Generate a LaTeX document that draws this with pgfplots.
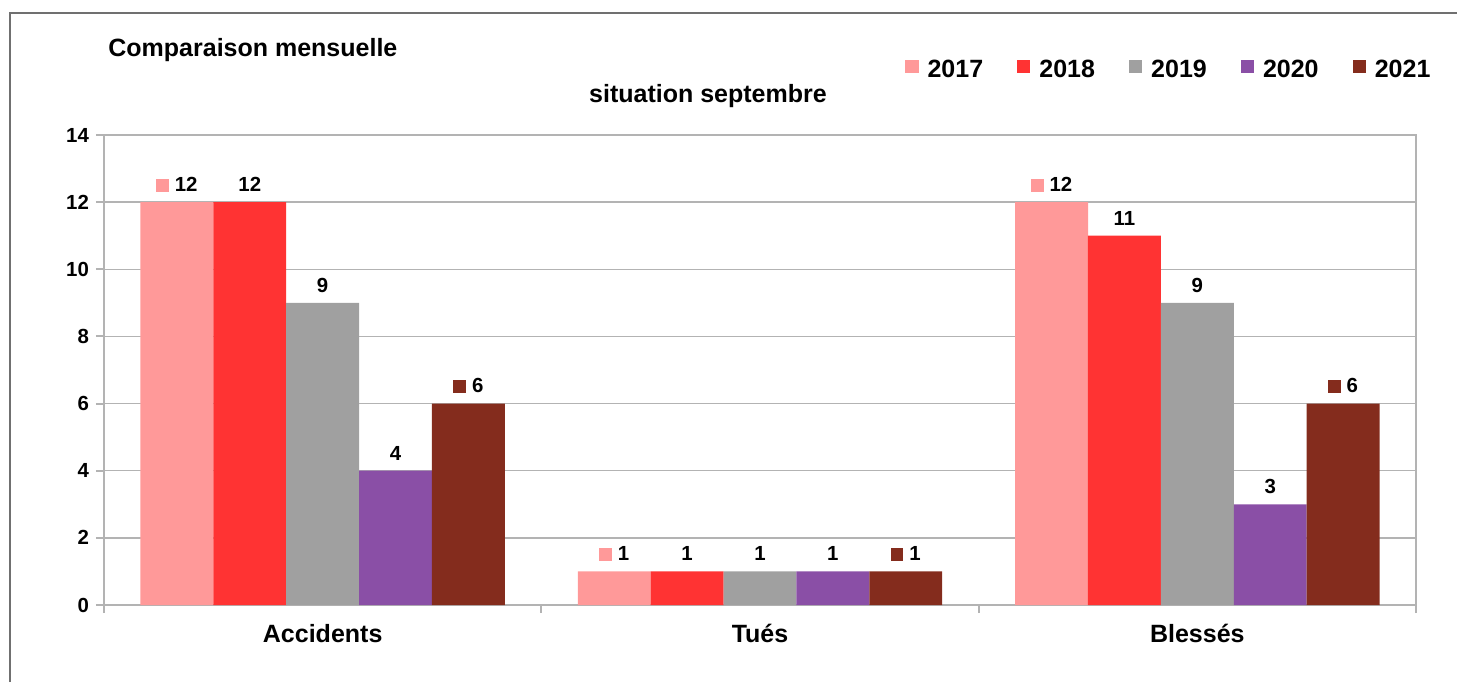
\documentclass[border=0pt]{standalone}
\usepackage{pgfplots}
\pgfplotsset{compat=1.18}
\usepackage{pgfplotstable}
\usepackage{fontspec}
\setmainfont{Liberation Sans}
\definecolor{c17}{HTML}{FF9999}
\definecolor{c18}{HTML}{FF3333}
\definecolor{c19}{HTML}{A0A0A0}
\definecolor{c20}{HTML}{8A4FA6}
\definecolor{c21}{HTML}{842C1D}
\definecolor{gridc}{HTML}{B3B3B3}
\definecolor{framec}{HTML}{707070}

% x: 0 = Accidents, 1 = Tues, 2 = Blesses
\pgfplotstableread{
x y
0 12
1 1
2 12
}\tA
\pgfplotstableread{
x y
0 12
1 1
2 11
}\tB
\pgfplotstableread{
x y
0 9
1 1
2 9
}\tC
\pgfplotstableread{
x y
0 4
1 1
2 3
}\tD
\pgfplotstableread{
x y
0 6
1 1
2 6
}\tE

\newcommand{\lblfont}{\bfseries\fontsize{10.2}{12}\selectfont}
\newcommand{\bigfont}{\bfseries\fontsize{12.5}{15}\selectfont}

\begin{document}
\begin{tikzpicture}
\useasboundingbox (0,0) rectangle (728.5pt,341pt);
\draw[framec, line width=1pt] (5pt,0pt) -- (5pt,334.5pt) -- (728.5pt,334.5pt);
\node[anchor=base west, inner sep=0pt, font=\bigfont] at (54pt,312.5pt) {Comparaison mensuelle};
\node[anchor=base, inner sep=0pt, font=\bigfont] at (354pt,290pt) {situation septembre};
\begin{axis}[
  at={(52pt,38.5pt)}, anchor=south west,
  scale only axis, width=656pt, height=235pt,
  ybar, bar width=0.1667,
  xmin=-0.5, xmax=2.5, ymin=0, ymax=14,
  ytick={0,2,...,14},
  xtick={0,1,2}, xticklabels={Accidents,Tués,Blessés},
  minor xtick={-0.5,0.5,1.5,2.5},
  ymajorgrids, grid style={gridc, line width=0.75pt},
  axis line style={gridc, line width=1pt},
  tick align=outside, tick pos=left,
  major tick length=4pt, minor tick length=4pt,
  tick style={gridc, line width=1pt},
  major x tick style={draw=none},
  /pgf/number format/assume math mode=true,
  yticklabel style={font=\lblfont},
  xticklabel style={font=\bigfont, yshift=-2pt},
  nodes near coords,
  every node near coord/.append style={font=\lblfont, text=black, yshift=1.7pt},
  legend columns=5,
  legend style={at={(0.6105,1.1380)}, anchor=west, draw=none, fill=none,
    inner sep=0pt, font=\bigfont,
    nodes={inner sep=0pt},
    /tikz/every odd column/.append style={column sep=4.5pt},
    /tikz/every even column/.append style={column sep=17pt}},
]
\addplot[bar shift=-0.3333, fill=c17, draw=none,
  nodes near coords={\textcolor{c17}{\rule{6.3pt}{6.3pt}}\hspace{3pt}\pgfmathprintnumber{\pgfplotspointmeta}},
  legend image code/.code={\fill[c17] (0pt,-1.5pt) rectangle (6.6pt,5.1pt);}] table {\tA};
\addlegendentry{2017}
\addplot[bar shift=-0.1667, fill=c18, draw=none,
  legend image code/.code={\fill[c18] (0pt,-1.5pt) rectangle (6.6pt,5.1pt);}] table {\tB};
\addlegendentry{2018}
\addplot[bar shift=0, fill=c19, draw=none,
  legend image code/.code={\fill[c19] (0pt,-1.5pt) rectangle (6.6pt,5.1pt);}] table {\tC};
\addlegendentry{2019}
\addplot[bar shift=0.1667, fill=c20, draw=none,
  legend image code/.code={\fill[c20] (0pt,-1.5pt) rectangle (6.6pt,5.1pt);}] table {\tD};
\addlegendentry{2020}
\addplot[bar shift=0.3333, fill=c21, draw=none,
  nodes near coords={\textcolor{c21}{\rule{6.3pt}{6.3pt}}\hspace{3pt}\pgfmathprintnumber{\pgfplotspointmeta}},
  legend image code/.code={\fill[c21] (0pt,-1.5pt) rectangle (6.6pt,5.1pt);}] table {\tE};
\addlegendentry{2021}
\end{axis}
\end{tikzpicture}
\end{document}
